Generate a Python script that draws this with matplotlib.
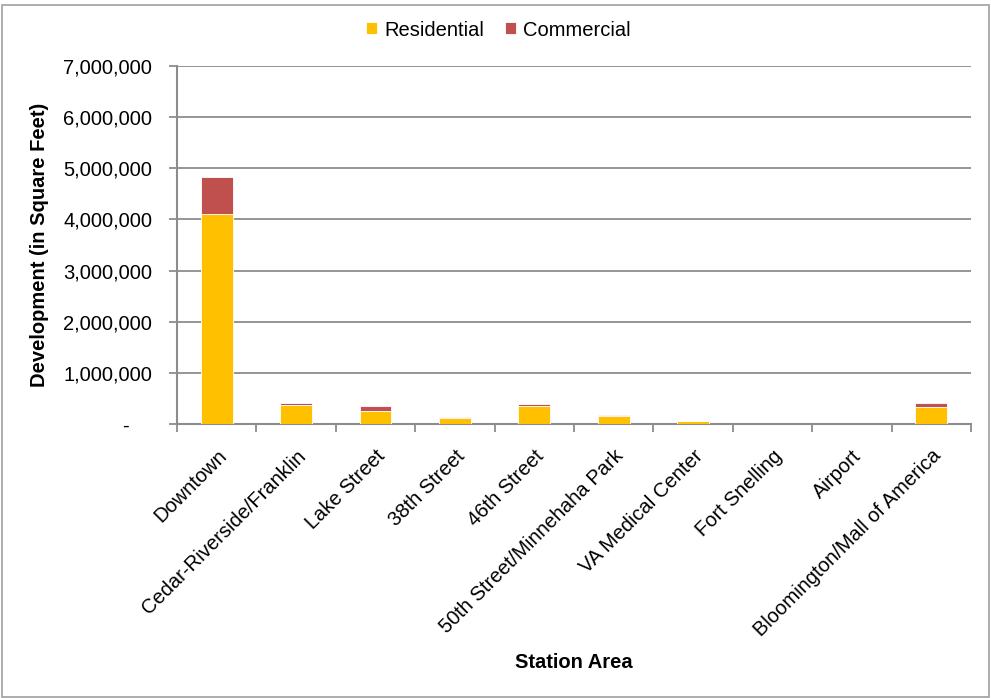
import matplotlib
matplotlib.use("Agg")
import matplotlib.pyplot as plt
from matplotlib.patches import Rectangle
from matplotlib.ticker import FuncFormatter, MultipleLocator
import numpy as np

plt.rcParams['font.family'] = ['Liberation Sans', 'DejaVu Sans']

stations = ["Downtown", "Cedar-Riverside/Franklin", "Lake Street", "38th Street",
            "46th Street", "50th Street/Minnehaha Park", "VA Medical Center",
            "Fort Snelling", "Airport", "Bloomington/Mall of America"]
residential = [4100000, 380000, 255000, 110000, 360000, 165000, 55000, 0, 0, 330000]
commercial = [720000, 30000, 100000, 25000, 30000, 5000, 3000, 0, 0, 80000]

res_color = "#FFC000"
com_color = "#C0504D"
grid_color = "#8C8C8C"
fs = 14.5

fig = plt.figure(figsize=(9.91, 6.98), dpi=100)
ax = fig.add_axes([177/991, 1-424/698, (971-177)/991, (424-66)/698])

x = np.arange(len(stations))
w = 0.40
ax.bar(x, residential, width=w, color=res_color, edgecolor="white", linewidth=0.6,
       label="Residential", zorder=3)
ax.bar(x, commercial, width=w, bottom=residential, color=com_color, edgecolor="white",
       linewidth=0.6, label="Commercial", zorder=3)

ax.set_xlim(-0.5, len(stations)-0.5)
ax.set_ylim(0, 7000000)
ax.yaxis.set_major_locator(MultipleLocator(1000000))
ax.yaxis.set_major_formatter(FuncFormatter(lambda v, p: "-    " if v == 0 else f"{v:,.0f}"))
ax.grid(axis="y", color=grid_color, linewidth=1.3, zorder=0)
ax.set_axisbelow(True)

ax.set_xticks(x)
ax.set_xticklabels(stations, rotation=45, ha="right", rotation_mode="anchor", fontsize=fs)
ax.set_xticks(np.arange(len(stations)+1)-0.5, minor=True)
ax.tick_params(axis="x", which="major", length=0, pad=16)
ax.tick_params(axis="x", which="minor", length=6, width=1.3, color=grid_color)
ax.tick_params(axis="y", length=6, width=1.3, color=grid_color, labelsize=fs, pad=12)

for s in ["top", "right"]:
    ax.spines[s].set_visible(False)
for s in ["left", "bottom"]:
    ax.spines[s].set_color(grid_color)
    ax.spines[s].set_linewidth(1.5)

ax.set_ylabel("Development (in Square Feet)", fontsize=fs, fontweight="bold", labelpad=10)
fig.text(574/991, 1-663/698, "Station Area", fontsize=fs, fontweight="bold",
         ha="center", va="center")

leg = fig.legend(loc="center", bbox_to_anchor=(0.503, 1-30/698), ncol=2, frameon=False,
                 fontsize=fs, handlelength=0.55, handleheight=0.55, handletextpad=0.35,
                 columnspacing=1.05)

fig.patches.append(Rectangle((2/991, 0.8/698), 987/991, 692/698, transform=fig.transFigure,
                             fill=False, edgecolor="#A0A0A0", linewidth=1.2))

fig.savefig("out.png", dpi=100)
